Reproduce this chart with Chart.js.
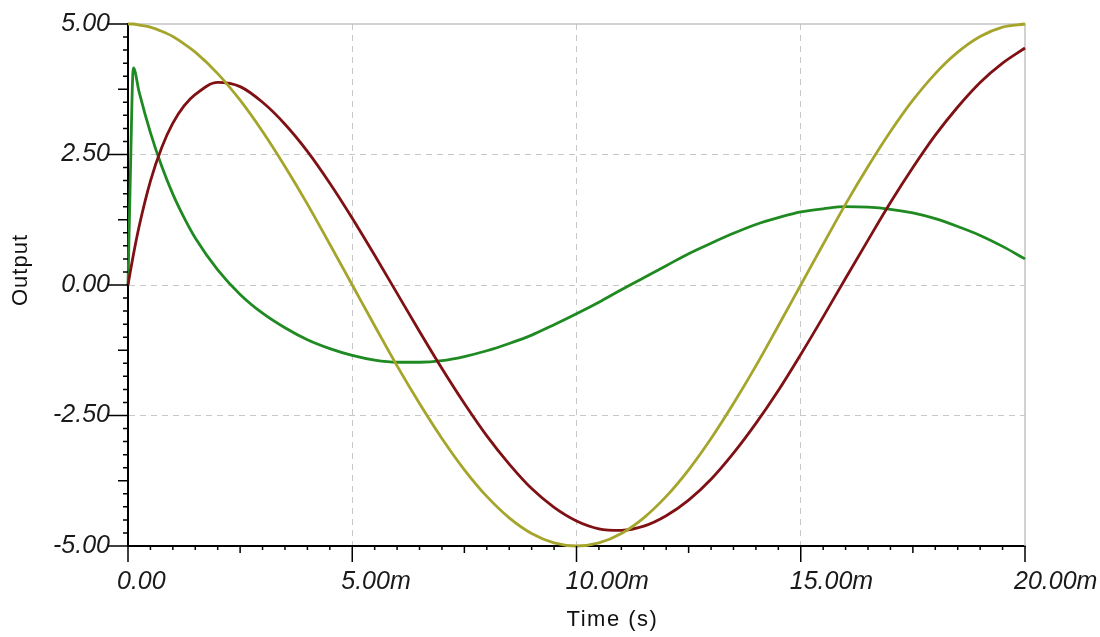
<!DOCTYPE html>
<html>
<head>
<meta charset="utf-8">
<title>Output vs Time</title>
<script src="https://cdn.jsdelivr.net/npm/chart.js@4.4.1/dist/chart.umd.min.js"></script>
<style>
  html, body { margin: 0; padding: 0; background: #fff; }
  #wrap { width: 1100px; height: 637px; }
</style>
</head>
<body>
<div id="wrap"><canvas id="outputChart" width="1100" height="637"></canvas></div>
<script>
// sample times in ms (axis shows them as "m")
const timeMs = [0, 0.05, 0.12, 0.25, 0.5, 0.75, 1, 1.25, 1.5,
    2, 2.5, 3, 3.5, 4, 4.5, 5, 5.5, 6, 6.5, 7, 7.5, 8, 8.5, 9, 9.5, 10,
    10.5, 11, 11.5, 12, 12.5, 13, 13.5, 14, 14.5, 15, 15.5, 16, 16.5, 17, 17.5, 18, 18.5, 19, 19.5, 20];

const oliveSeries = [5.00, 5.00, 5.00, 4.98, 4.94, 4.86, 4.76, 4.62, 4.46,
    4.05, 3.54, 2.94, 2.27, 1.55, 0.78, 0.00,
    -0.78, -1.55, -2.27, -2.94, -3.54, -4.05, -4.46, -4.76, -4.94, -5.00,
    -4.94, -4.76, -4.46, -4.05, -3.54, -2.94, -2.27, -1.55, -0.78, 0.00,
    0.78, 1.55, 2.27, 2.94, 3.54, 4.05, 4.46, 4.76, 4.94, 5.00];

const maroonSeries = [0.00, 0.25, 0.58, 1.13, 1.99, 2.63, 3.10, 3.43, 3.65,
    3.88, 3.80, 3.50, 3.08, 2.56, 1.95, 1.28,
    0.57, -0.16, -0.89, -1.60, -2.27, -2.89, -3.43, -3.90, -4.26, -4.52,
    -4.67, -4.70, -4.62, -4.42, -4.12, -3.72, -3.22, -2.65, -2.02, -1.33,
    -0.61, 0.13, 0.86, 1.58, 2.25, 2.87, 3.41, 3.88, 4.25, 4.54];

const greenSeries = [0.00, 2.00, 4.16, 3.69, 2.92, 2.28, 1.74, 1.29, 0.90,
    0.29, -0.18, -0.54, -0.82, -1.05, -1.22, -1.35,
    -1.44, -1.48, -1.48, -1.45, -1.37, -1.26, -1.12, -0.96, -0.76, -0.55,
    -0.33, -0.09, 0.14, 0.37, 0.60, 0.80, 0.99, 1.16, 1.29, 1.40,
    1.46, 1.50, 1.49, 1.45, 1.38, 1.27, 1.12, 0.95, 0.74, 0.50];

const xTickLabels = ['0.00', '5.00m', '10.00m', '15.00m', '20.00m'];
const yTickLabels = ['-5.00', '-2.50', '0.00', '2.50', '5.00'];

const isMultiple = (v, step) => Math.abs(v / step - Math.round(v / step)) < 1e-6;
const toPoints = (values) => timeMs.map((t, i) => ({x: t, y: values[i]}));

const tickFont = {family: "'Liberation Sans', Arial, sans-serif", size: 25, style: 'italic'};
const gridColor = '#c8c8c8';

// grey frame on top/right, tick marks of three lengths, axis titles
const scopeFrame = {
    id: 'scopeFrame',
    beforeDatasetsDraw(chart) {
        const {ctx, chartArea: a} = chart;
        ctx.save();
        ctx.strokeStyle = '#c4c4c4';
        ctx.lineWidth = 1.5;
        ctx.beginPath();
        ctx.moveTo(a.left, a.top);
        ctx.lineTo(a.right, a.top);
        ctx.lineTo(a.right, a.bottom);
        ctx.stroke();
        ctx.restore();
    },
    afterDraw(chart) {
        const {ctx, chartArea: a, scales: {x, y}} = chart;
        ctx.save();
        ctx.strokeStyle = '#000';
        ctx.lineWidth = 1.5;
        ctx.beginPath();
        x.ticks.forEach(t => {
            const px = x.getPixelForValue(t.value);
            const len = isMultiple(t.value, 5) ? 16 : isMultiple(t.value, 2.5) ? 7 : 4;
            ctx.moveTo(px, a.bottom);
            ctx.lineTo(px, a.bottom + len);
        });
        y.ticks.forEach(t => {
            const py = y.getPixelForValue(t.value);
            const len = isMultiple(t.value, 2.5) ? 20 : isMultiple(t.value, 1.25) ? 10 : 5;
            ctx.moveTo(a.left, py);
            ctx.lineTo(a.left - len, py);
        });
        ctx.stroke();

        ctx.fillStyle = '#111';
        ctx.font = "22px 'Liberation Sans', Arial, sans-serif";
        ctx.textAlign = 'center';
        ctx.textBaseline = 'middle';
        ctx.letterSpacing = '1.5px';
        ctx.fillText('Time (s)', (a.left + a.right) / 2 + 36, a.bottom + 74);
        ctx.letterSpacing = '1px';
        ctx.translate(21, (a.top + a.bottom) / 2 - 15);
        ctx.rotate(-Math.PI / 2);
        ctx.fillText('Output', 0, 0);
        ctx.restore();
    }
};

function lineSet(label, values, color) {
    return {
        label: label,
        data: toPoints(values),
        borderColor: color,
        backgroundColor: color,
        borderWidth: 2.8,
        pointRadius: 0,
        cubicInterpolationMode: 'monotone',
        clip: 4
    };
}

new Chart(document.getElementById('outputChart'), {
    type: 'line',
    data: {
        datasets: [
            lineSet('V1', oliveSeries, '#a5a52c'),
            lineSet('V2', maroonSeries, '#7f1014'),
            lineSet('V3', greenSeries, '#1f8a22')
        ]
    },
    options: {
        responsive: false,
        animation: false,
        layout: {padding: {top: 24, right: 75, bottom: 0, left: 0}},
        plugins: {
            legend: {display: false},
            tooltip: {enabled: false}
        },
        scales: {
            x: {
                type: 'linear',
                min: 0,
                max: 20,
                afterFit(scale) {
                    scale.height = 91;
                    scale.paddingLeft = 0;
                    scale.paddingRight = 0;
                },
                ticks: {
                    stepSize: 0.5,
                    autoSkip: false,
                    maxRotation: 0,
                    minRotation: 0,
                    align: 'start',
                    labelOffset: -11,
                    padding: 21,
                    color: '#1a1a1a',
                    font: tickFont,
                    callback: (v) => isMultiple(v, 5) ? xTickLabels[Math.round(v / 5)] : ''
                },
                grid: {
                    drawTicks: false,
                    lineWidth: 1,
                    color: (c) => (c.tick && isMultiple(c.tick.value, 5) && c.tick.value > 0 && c.tick.value < 20) ? gridColor : 'rgba(0,0,0,0)'
                },
                border: {display: true, color: '#000', width: 2, dash: [6, 5]}
            },
            y: {
                min: -5,
                max: 5,
                afterFit(scale) {
                    scale.width = 128;
                    scale.paddingTop = 0;
                    scale.paddingBottom = 0;
                },
                ticks: {
                    stepSize: 0.25,
                    autoSkip: false,
                    padding: 18,
                    color: '#1a1a1a',
                    font: tickFont,
                    callback: (v) => isMultiple(v, 2.5) ? yTickLabels[Math.round((v + 5) / 2.5)] : ''
                },
                grid: {
                    drawTicks: false,
                    lineWidth: 1,
                    color: (c) => (c.tick && isMultiple(c.tick.value, 2.5) && Math.abs(c.tick.value) < 4.9) ? gridColor : 'rgba(0,0,0,0)'
                },
                border: {display: true, color: '#000', width: 2, dash: [6, 5]}
            }
        }
    },
    plugins: [scopeFrame]
});
</script>
</body>
</html>
